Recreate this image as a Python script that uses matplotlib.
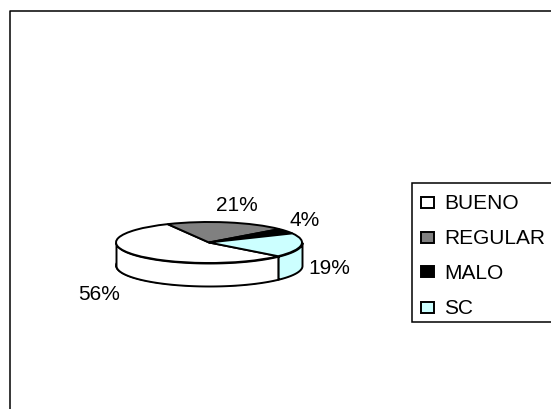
import numpy as np
import matplotlib
matplotlib.use('Agg')
import matplotlib.pyplot as plt
from matplotlib.patches import Rectangle

# Data
categories = ['BUENO', 'REGULAR', 'MALO', 'SC']
values = [56, 21, 4, 19]
labels = ['56%', '21%', '4%', '19%']
colors = ['#FFFFFF', '#808080', '#000000', '#CCFFFF']

plt.rcParams['font.family'] = ['Liberation Sans', 'DejaVu Sans']

W, H = 551, 410
fig = plt.figure(figsize=(W / 100, H / 100), dpi=100)

# Overlay in pixel coordinates for frame, labels and legend
ax = fig.add_axes([0, 0, 1, 1])
ax.set_xlim(0, W)
ax.set_ylim(H, 0)
ax.axis('off')

# Outer chart frame (only left and top are visible in the crop)
ax.plot([10, 10, W], [H, 12, 12], color='black', lw=1.1, clip_on=False)

# Pie placement, pixels
left, right = 116, 302
top, bottom = 223, 264
depth = 23
start = 318
ry = (bottom - top) / 2

pie_ax = fig.add_axes([left / W, 1 - (bottom + depth) / H, (right - left) / W, (bottom + depth - top) / H])
pie_ax.patch.set_alpha(0)
edge = dict(edgecolor='black', linewidth=1.4, clip_on=False)

# Bottom disc, then the visible wall, then the top disc
pie_ax.pie(values, colors=colors, startangle=start, counterclock=False, center=(0, -depth / ry),
           radius=1, wedgeprops=edge)

edges = start - np.cumsum([0] + values) * 3.6
for i in range(len(values)):
    hi, lo = edges[i], edges[i + 1]
    for win_lo, win_hi in [(180, 360), (-180, 0)]:
        a, b = max(lo, win_lo), min(hi, win_hi)
        if b > a:
            t = np.radians(np.linspace(a, b, 80))
            x = np.cos(t)
            y = np.sin(t)
            pie_ax.fill_between(x, y, y - depth / ry, color=colors[i], edgecolor='black',
                                linewidth=1.4, clip_on=False)

pie_ax.pie(values, colors=colors, startangle=start, counterclock=False, radius=1, wedgeprops=edge)
pie_ax.set_aspect('auto')
pie_ax.set_xlim(-1, 1)
pie_ax.set_ylim(-1 - depth / ry, 1)
pie_ax.axis('off')

# Percentage labels
label_pos = [(99, 295), (237, 205.5), (305, 221), (329, 269)]
for text, (x, y) in zip(labels, label_pos):
    ax.text(x, y, text, fontsize=15, ha='center', va='center', color='black')

# Legend
ax.add_patch(Rectangle((412, 184), 150, 139, facecolor='white', edgecolor='black', lw=1.1, zorder=3))
swatch_y = [203.5, 238, 272.5, 308]
legend_y = [204, 239, 273.5, 309]
for name, color, sy, y in zip(categories, colors, swatch_y, legend_y):
    ax.add_patch(Rectangle((421, sy - 5.5), 13, 11, facecolor=color, edgecolor='black', lw=1.4, zorder=4))
    ax.text(444, y, name, fontsize=15, ha='left', va='center', color='black', zorder=4)

fig.savefig('out.png', dpi=100)
